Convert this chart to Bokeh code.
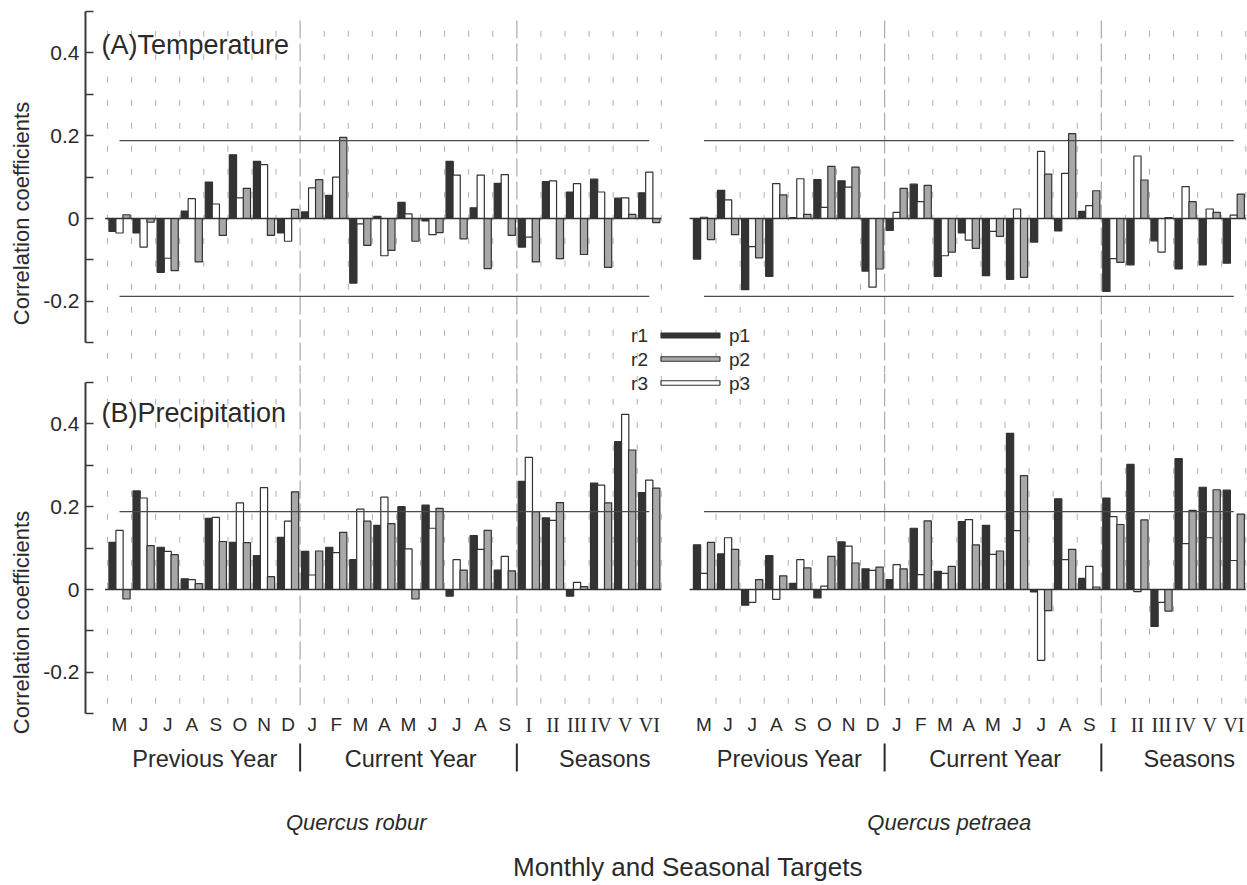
import numpy as np
from bokeh.plotting import figure
from bokeh.models import FixedTicker, Range1d
from bokeh.layouts import column, row
from bokeh.embed import file_html
from bokeh.resources import INLINE
from bokeh.core.properties import value

# ---------------- data ----------------
months = ["M", "J", "J", "A", "S", "O", "N", "D", "J", "F", "M", "A", "M", "J", "J", "A", "S"]
seasons = ["I", "II", "III", "IV", "V", "VI"]
groups = ["Previous Year", "Current Year", "Seasons"]
species = ["Quercus robur", "Quercus petraea"]
y_ticks = [-0.2, 0.0, 0.2, 0.4]
y_minor = [-0.3, -0.1, 0.1, 0.3, 0.5]
threshold = 0.188

# (A) Temperature, Quercus robur
temp_r1 = [-0.031, -0.035, -0.130, 0.018, 0.088, 0.154, 0.138, -0.035, 0.016, 0.056, -0.156, 0.005,
           0.039, -0.006, 0.138, 0.026, 0.085, -0.069, 0.089, 0.064, 0.095, 0.049, 0.062]
temp_r2 = [0.009, -0.009, -0.126, -0.105, -0.041, 0.073, -0.041, 0.022, 0.094, 0.196, -0.065, -0.077,
           -0.055, -0.034, -0.049, -0.121, -0.041, -0.105, -0.097, -0.087, -0.118, 0.010, -0.010]
temp_r3 = [-0.035, -0.069, -0.096, 0.048, 0.035, 0.050, 0.130, -0.055, 0.074, 0.100, -0.013, -0.090,
           0.011, -0.039, 0.105, 0.105, 0.106, -0.045, 0.091, 0.084, 0.064, 0.050, 0.112]
# (A) Temperature, Quercus petraea
temp_p1 = [-0.098, 0.068, -0.172, -0.140, 0.002, 0.094, 0.091, -0.127, -0.029, 0.083, -0.140, -0.035,
           -0.138, -0.147, -0.057, -0.030, 0.017, -0.176, -0.112, -0.054, -0.122, -0.112, -0.108]
temp_p2 = [-0.051, -0.039, -0.095, 0.057, 0.010, 0.126, 0.124, -0.122, 0.073, 0.080, -0.081, -0.072,
           -0.043, -0.142, 0.107, 0.205, 0.067, -0.106, 0.093, 0.002, 0.041, 0.015, 0.059]
temp_p3 = [0.003, 0.045, -0.068, 0.084, 0.096, 0.027, 0.076, -0.166, 0.015, 0.041, -0.090, -0.052,
           -0.031, 0.023, 0.162, 0.109, 0.031, -0.097, 0.151, -0.081, 0.077, 0.023, 0.008]
# (B) Precipitation, Quercus robur
prec_r1 = [0.114, 0.238, 0.102, 0.026, 0.172, 0.114, 0.082, 0.126, 0.092, 0.102, 0.072, 0.155,
           0.200, 0.204, -0.016, 0.130, 0.047, 0.261, 0.173, -0.016, 0.257, 0.357, 0.234]
prec_r2 = [-0.023, 0.106, 0.084, 0.014, 0.116, 0.113, 0.031, 0.236, 0.093, 0.138, 0.165, 0.159,
           -0.023, 0.196, 0.047, 0.143, 0.045, 0.188, 0.210, 0.007, 0.209, 0.337, 0.245]
prec_r3 = [0.143, 0.221, 0.092, 0.024, 0.174, 0.209, 0.246, 0.165, 0.035, 0.089, 0.194, 0.223,
           0.098, 0.148, 0.072, 0.097, 0.080, 0.319, 0.167, 0.017, 0.252, 0.423, 0.264]
# (B) Precipitation, Quercus petraea
prec_p1 = [0.108, 0.086, -0.038, 0.082, 0.015, -0.020, 0.115, 0.050, 0.024, 0.148, 0.044, 0.164,
           0.155, 0.377, -0.006, 0.219, 0.027, 0.221, 0.302, -0.089, 0.316, 0.247, 0.240]
prec_p2 = [0.114, 0.097, 0.024, 0.033, 0.052, 0.080, 0.064, 0.054, 0.050, 0.166, 0.056, 0.108,
           0.093, 0.275, -0.051, 0.097, 0.006, 0.157, 0.168, -0.052, 0.191, 0.241, 0.182]
prec_p3 = [0.039, 0.125, -0.031, -0.024, 0.072, 0.008, 0.105, 0.046, 0.060, 0.036, 0.039, 0.169,
           0.085, 0.142, -0.171, 0.072, 0.056, 0.176, -0.005, -0.031, 0.111, 0.125, 0.070]

legend_left = ["r1", "r2", "r3"]
legend_right = ["p1", "p2", "p3"]
y_title = "Correlation coefficients"

# ---------------- layout / style ----------------
W, H = 1247, 885
STRIP = 40            # narrow strip on the left holding the y titles
LEFT_PX = 84          # y-axis line position
X0_PX = 106           # left edge of first category (robur)
CAT_PX = 24.1         # pixels per category
PET_OFF = (691 - X0_PX) / CAT_PX
YS = 414.0            # pixels per correlation unit
TOP_ZERO, BOT_ZERO = 218, 589
TOP_PAD, SPLIT = 6, 372

DARK = "#333333"
GRAY = "#a8a8a8"
EDGE = "#333333"
TXT = "#2a2a2a"
GRID = "#b0b0b0"
SANS = "Liberation Sans"
SERIF = "Liberation Serif"

cats = months + seasons
n = len(cats)
n_prev, n_cur = 8, 9


def xd(px):
    return (px - X0_PX) / CAT_PX


x_range = Range1d(xd(LEFT_PX), xd(W))


def make_fig(zero_px, top_px, bottom_px, height, border_top):
    p = figure(width=W - STRIP, height=height, x_range=x_range,
               y_range=Range1d((zero_px - bottom_px) / YS, (zero_px - top_px) / YS),
               output_backend="svg", toolbar_location=None, x_axis_location=None,
               min_border_left=LEFT_PX - STRIP, min_border_right=0,
               min_border_top=border_top, min_border_bottom=0)
    p.outline_line_color = None
    p.grid.visible = False
    p.background_fill_color = "white"
    ax = p.yaxis[0]
    ax.ticker = FixedTicker(ticks=y_ticks, minor_ticks=y_minor)
    ax.bounds = (-0.3, 0.5)
    ax.major_label_overrides = {-0.2: "-0.2", 0.0: "0", 0.2: "0.2", 0.4: "0.4"}
    ax.major_tick_in, ax.major_tick_out = 8, 0
    ax.minor_tick_in, ax.minor_tick_out = 8, 0
    ax.axis_line_width = 2
    ax.axis_line_color = "#3a3a3a"
    ax.major_tick_line_color = "#3a3a3a"
    ax.minor_tick_line_color = "#3a3a3a"
    ax.major_tick_line_width = 1.5
    ax.minor_tick_line_width = 1.5
    ax.major_label_text_font = SANS
    ax.major_label_text_font_size = "21px"
    ax.major_label_text_color = TXT
    ax.major_label_standoff = 6
    return p


def draw_grid(p, zero_px):
    yd = lambda px: (zero_px - px) / YS
    short_x, long_x = [], []
    for off, first in ((0.0, 0), (PET_OFF, 1)):
        for b in range(first, n + 1):
            if b in (n_prev, n_prev + n_cur):
                long_x.append(off + b)
            else:
                short_x.append(off + b)
    p.segment(x0=short_x, x1=short_x, y0=[yd(30.3)] * len(short_x), y1=[yd(706)] * len(short_x),
              line_color=GRID, line_width=1, line_dash="6 17")
    p.segment(x0=long_x, x1=long_x, y0=[yd(20)] * len(long_x), y1=[yd(706)] * len(long_x),
              line_color=GRID, line_width=1.3, line_dash="18 5")


def draw_bars(p, robur, petraea, thresholds):
    for off, (s1, s2, s3) in ((0.0, robur), (PET_OFF, petraea)):
        xs = np.arange(n) + 0.5 + off
        for vals, fill, shift in ((s1, DARK, -0.29), (s3, "white", 0.0), (s2, GRAY, 0.29)):
            p.vbar(x=xs + shift, top=vals, bottom=0, width=0.3, fill_color=fill,
                   line_color=EDGE, line_width=1.2)
        p.segment(x0=[off - 0.1], x1=[off + n], y0=[0], y1=[0], line_color=EDGE, line_width=1.5)
        for t in thresholds:
            p.segment(x0=[off + 0.5], x1=[off + n - 0.5], y0=[t], y1=[t],
                      line_color="#4a4a4a", line_width=1.3)


def draw_legend(p, zero_px, rows):
    yd = lambda px: (zero_px - px) / YS
    fills = [DARK, GRAY, "white"]
    heights = [5, 4.5, 4.5]
    ys_px = [335, 358.5, 382.5]
    for i in rows:
        yc = yd(ys_px[i])
        h = heights[i] / YS
        p.quad(left=[xd(660)], right=[xd(719)], bottom=[yc - h / 2], top=[yc + h / 2],
               fill_color=fills[i], line_color=EDGE, line_width=1.2)
        p.text(x=[xd(647)], y=[yc], text=[legend_left[i]], text_align="right", text_baseline="middle",
               text_font=value(SANS), text_font_size="19px", text_color=TXT)
        p.text(x=[xd(728)], y=[yc], text=[legend_right[i]], text_align="left", text_baseline="middle",
               text_font=value(SANS), text_font_size="19px", text_color=TXT)


# ---------------- left strip: y titles ----------------
strip = figure(width=STRIP, height=H, x_range=Range1d(0, STRIP), y_range=Range1d(H, 0),
               output_backend="svg", toolbar_location=None, x_axis_location=None,
               y_axis_location=None, min_border=0)
strip.outline_line_color = None
strip.grid.visible = False
strip.text(x=[21, 21], y=[213, 622], text=[y_title, y_title], angle=np.pi / 2,
           text_align="center", text_baseline="middle", text_font=value(SANS),
           text_font_size="22px", text_color=TXT)

# ---------------- top: temperature ----------------
top = make_fig(TOP_ZERO, TOP_PAD, SPLIT, SPLIT, TOP_PAD)
draw_grid(top, TOP_ZERO)
draw_bars(top, (temp_r1, temp_r2, temp_r3), (temp_p1, temp_p2, temp_p3), [threshold, -threshold])
top.text(x=[xd(100)], y=[(TOP_ZERO - 44) / YS], text=["(A)Temperature"], text_baseline="middle",
         text_font=value(SANS), text_font_size="27px", text_color=TXT)
draw_legend(top, TOP_ZERO, [0, 1])

# ---------------- bottom: precipitation ----------------
bot = make_fig(BOT_ZERO, SPLIT, H, H - SPLIT, 0)
draw_grid(bot, BOT_ZERO)
draw_bars(bot, (prec_r1, prec_r2, prec_r3), (prec_p1, prec_p2, prec_p3), [threshold])
yb = lambda px: (BOT_ZERO - px) / YS
bot.text(x=[xd(100)], y=[yb(412)], text=["(B)Precipitation"], text_baseline="middle",
         text_font=value(SANS), text_font_size="27px", text_color=TXT)
draw_legend(bot, BOT_ZERO, [2])

group_centers = [4.05, 12.6, 20.65]
for off in (0.0, PET_OFF):
    mx = np.arange(len(months)) + 0.5 + off
    bot.text(x=mx, y=[yb(724)] * len(months), text=months, text_align="center", text_baseline="middle",
             text_font=value(SANS), text_font_size="19px", text_color=TXT)
    sx = np.arange(len(months), n) + 0.5 + off
    bot.text(x=sx, y=[yb(724)] * len(seasons), text=seasons, text_align="center", text_baseline="middle",
             text_font=value(SERIF), text_font_size="20px", text_color=TXT)
    gx = [g + off for g in group_centers]
    bot.text(x=gx, y=[yb(758)] * len(groups), text=groups, text_align="center", text_baseline="middle",
             text_font=value(SANS), text_font_size="23.5px", text_color=TXT)
    sep = [off + n_prev, off + n_prev + n_cur]
    bot.segment(x0=sep, x1=sep, y0=[yb(743)] * 2, y1=[yb(771)] * 2, line_color=TXT, line_width=2)

bot.text(x=[xd(355), xd(948.5)], y=[yb(822)] * 2, text=species, text_align="center",
         text_baseline="middle", text_font=value(SANS), text_font_size="22px",
         text_font_style="italic", text_color=TXT)
bot.text(x=[xd(687)], y=[yb(866)], text=["Monthly and Seasonal Targets"], text_align="center",
         text_baseline="middle", text_font=value(SANS), text_font_size="26px", text_color=TXT)

layout = row(strip, column(top, bot, spacing=0), spacing=0)
open("out.html", "w").write(file_html(layout, INLINE))
